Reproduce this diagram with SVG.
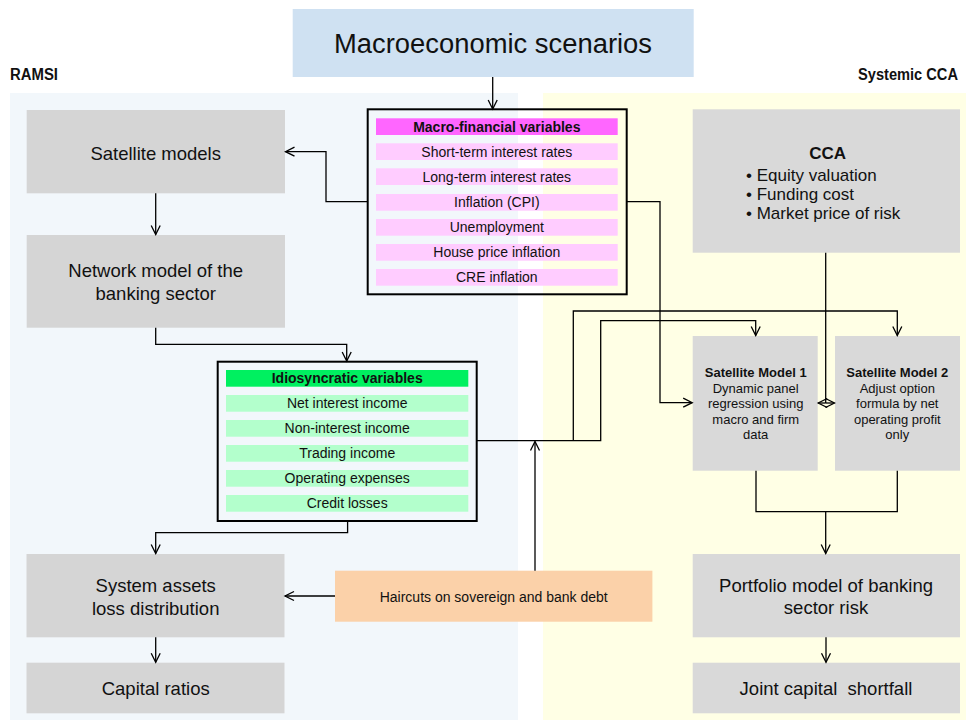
<svg xmlns="http://www.w3.org/2000/svg" width="966" height="726" viewBox="0 0 966 726">
<defs>
<marker id="arr" markerUnits="userSpaceOnUse" markerWidth="12" markerHeight="12" refX="9" refY="4.5" orient="auto" overflow="visible">
<path d="M0,0 L9,4.5 L0,9" fill="none" stroke="#000" stroke-width="1.3"/>
</marker>
</defs>
<style>
text{font-family:"Liberation Sans",Arial,sans-serif;fill:#111;}
.gl{fill:#d5d5d5;}
.gr{fill:#d9d9d9;}
.big{font-size:18.5px;text-anchor:middle;}
.row{font-size:14px;text-anchor:middle;}
.hdr{font-size:14px;font-weight:bold;text-anchor:middle;}
.sm{font-size:13px;text-anchor:middle;}
.smb{font-size:13px;font-weight:bold;text-anchor:middle;}
.frame{fill:none;stroke:#000;stroke-width:2;}
.mrow{fill:#ffccff;}
.irow{fill:#b3ffcc;}
.c{fill:none;stroke:#000;stroke-width:1.3;}
.ttl{font-size:16px;font-weight:bold;}
</style>
<rect width="966" height="726" fill="#fff"/>
<rect x="10" y="93" width="508" height="627" fill="#f2f7fb"/>
<rect x="543" y="93" width="423" height="627" fill="#ffffe5"/>
<text class="ttl" x="10" y="80" textLength="48" lengthAdjust="spacingAndGlyphs">RAMSI</text>
<text class="ttl" x="958" y="80" text-anchor="end" textLength="100" lengthAdjust="spacingAndGlyphs">Systemic CCA</text>

<g id="macro-scenarios">
<rect x="292.7" y="9" width="401" height="68" fill="#cfe1f2"/>
<text x="493" y="53" font-size="27" text-anchor="middle" textLength="318" lengthAdjust="spacingAndGlyphs">Macroeconomic scenarios</text>
</g>

<g id="macro-vars">
<rect class="frame" x="367.7" y="109.3" width="259" height="185"/>
<rect x="376" y="118.3" width="241.7" height="16.7" fill="#ff66ff"/>
<text class="hdr" x="496.8" y="131.7">Macro-financial variables</text>
<rect class="mrow" x="376" y="143.3" width="241.7" height="16.7"/>
<text class="row" x="496.8" y="156.8">Short-term interest rates</text>
<rect class="mrow" x="376" y="168.3" width="241.7" height="16.7"/>
<text class="row" x="496.8" y="181.8">Long-term interest rates</text>
<rect class="mrow" x="376" y="194" width="241.7" height="16.7"/>
<text class="row" x="496.8" y="207.4">Inflation (CPI)</text>
<rect class="mrow" x="376" y="219" width="241.7" height="16.7"/>
<text class="row" x="496.8" y="232.4">Unemployment</text>
<rect class="mrow" x="376" y="244" width="241.7" height="16.7"/>
<text class="row" x="496.8" y="257.4">House price inflation</text>
<rect class="mrow" x="376" y="269" width="241.7" height="16.7"/>
<text class="row" x="496.8" y="282.4">CRE inflation</text>
</g>

<g id="satellite-models">
<rect class="gl" x="26.7" y="110" width="258.3" height="83.3"/>
<text class="big" x="155.7" y="160">Satellite models</text>
</g>

<g id="network-model">
<rect class="gl" x="26.7" y="235" width="258.3" height="92.7"/>
<text class="big" x="155.7" y="276.7">Network model of the</text>
<text class="big" x="155.7" y="300">banking sector</text>
</g>

<g id="idio-vars">
<rect class="frame" x="217.7" y="361.7" width="259" height="159.3"/>
<rect x="226" y="370" width="242.3" height="16.7" fill="#00f060"/>
<text class="hdr" x="347.2" y="383.3">Idiosyncratic variables</text>
<rect class="irow" x="226" y="395" width="242.3" height="16.7"/>
<text class="row" x="347.2" y="408.4">Net interest income</text>
<rect class="irow" x="226" y="420" width="242.3" height="16.7"/>
<text class="row" x="347.2" y="433.4">Non-interest income</text>
<rect class="irow" x="226" y="445" width="242.3" height="16.7"/>
<text class="row" x="347.2" y="458.4">Trading income</text>
<rect class="irow" x="226" y="470" width="242.3" height="16.7"/>
<text class="row" x="347.2" y="483.4">Operating expenses</text>
<rect class="irow" x="226" y="495" width="242.3" height="16.7"/>
<text class="row" x="347.2" y="508.4">Credit losses</text>
</g>

<g id="system-assets">
<rect class="gl" x="26.5" y="554" width="258" height="83.3"/>
<text class="big" x="155.7" y="591.7">System assets</text>
<text class="big" x="155.7" y="615">loss distribution</text>
</g>

<g id="capital-ratios">
<rect class="gl" x="26.5" y="662.7" width="258" height="50.6"/>
<text class="big" x="155.7" y="695">Capital ratios</text>
</g>

<g id="haircuts">
<rect x="335" y="570.7" width="317.4" height="51" fill="#fbd1a9"/>
<text x="493.7" y="601.7" font-size="14" text-anchor="middle">Haircuts on sovereign and bank debt</text>
</g>

<g id="cca">
<rect class="gr" x="692.7" y="109.3" width="267.3" height="143.4"/>
<text x="827.7" y="159" font-size="17" font-weight="bold" text-anchor="middle">CCA</text>
<text x="746" y="180.7" font-size="17">• Equity valuation</text>
<text x="746" y="200" font-size="17">• Funding cost</text>
<text x="746" y="219" font-size="17">• Market price of risk</text>
</g>

<g id="sm1">
<rect class="gr" x="692.7" y="336" width="125" height="134.7"/>
<text class="smb" x="755.7" y="377.3">Satellite Model 1</text>
<text class="sm" x="755.7" y="392.7">Dynamic panel</text>
<text class="sm" x="755.7" y="408.3">regression using</text>
<text class="sm" x="755.7" y="423.6">macro and firm</text>
<text class="sm" x="755.7" y="439">data</text>
</g>

<g id="sm2">
<rect class="gr" x="835" y="336" width="125" height="134.7"/>
<text class="smb" x="897.3" y="377.3">Satellite Model 2</text>
<text class="sm" x="897.3" y="392.7">Adjust option</text>
<text class="sm" x="897.3" y="408.3">formula by net</text>
<text class="sm" x="897.3" y="423.6">operating profit</text>
<text class="sm" x="897.3" y="439">only</text>
</g>

<g id="portfolio">
<rect class="gr" x="692.7" y="554" width="267.3" height="83.3"/>
<text class="big" x="826" y="591.7">Portfolio model of banking</text>
<text class="big" x="826" y="614.3">sector risk</text>
</g>

<g id="joint">
<rect class="gr" x="692.7" y="662.7" width="267.3" height="50.6"/>
<text class="big" x="826" y="695" style="white-space:pre">Joint capital  shortfall</text>
</g>

<g id="connectors">
<path class="c" d="M492.7,77 V109" marker-end="url(#arr)"/>
<path class="c" d="M367.7,201.7 H326 V151.7 H285.5" marker-end="url(#arr)"/>
<path class="c" d="M155.7,193.3 V234.5" marker-end="url(#arr)"/>
<path class="c" d="M155.7,327.7 V344.3 H346.7 V361" marker-end="url(#arr)"/>
<path class="c" d="M347.6,521 V532.7 H155.7 V553.5" marker-end="url(#arr)"/>
<path class="c" d="M155.7,637.3 V662.2" marker-end="url(#arr)"/>
<path class="c" d="M335,596 H285" marker-end="url(#arr)"/>
<path class="c" d="M535,570.7 V441.5" marker-end="url(#arr)"/>
<path class="c" d="M476.7,440.7 H600.7 V320.7 H755.7 V335.5" marker-end="url(#arr)"/>
<path class="c" d="M573.3,440.7 V311 H897.3 V335.5" marker-end="url(#arr)"/>
<path class="c" d="M626.7,201.7 H660 V402.7 H692.2" marker-end="url(#arr)"/>
<path class="c" d="M825.7,252.7 V403"/>
<path class="c" d="M825.7,403 H818.2" marker-end="url(#arr)"/>
<path class="c" d="M825.7,403 H834.5" marker-end="url(#arr)"/>
<path class="c" d="M756,470.7 V511.7 H897.3 V470.7"/>
<path class="c" d="M825.7,511.7 V553.5" marker-end="url(#arr)"/>
<path class="c" d="M826,637.3 V662.2" marker-end="url(#arr)"/>
</g>
</svg>
